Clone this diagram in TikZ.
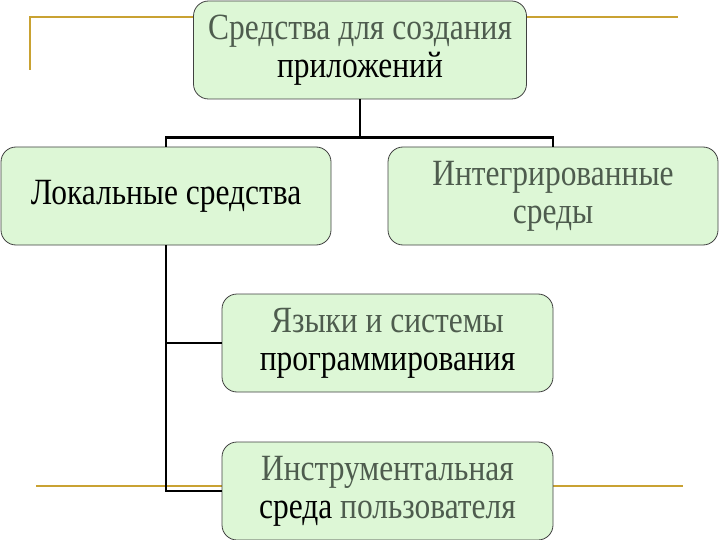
\documentclass[tikz,border=0pt]{standalone}
\usepackage{fontspec}
\setmainfont{Liberation Serif}[FakeStretch=0.85]
\definecolor{gold}{HTML}{C9A232}
\definecolor{boxfill}{HTML}{DDF7D6}
\definecolor{greytext}{HTML}{4E5C4E}
\tikzset{
  box/.style={draw=black!75, line width=0.8pt, fill=boxfill, rounded corners=15pt,
    minimum width=#1, minimum height=98pt, align=center, inner sep=1pt,
    font=\fontsize{37}{38}\selectfont},
  box/.default=331pt,
  conn/.style={line width=2.6pt, draw=black},
  deco/.style={line width=2.8pt, draw=gold}
}
\begin{document}
\begin{tikzpicture}[x=1pt,y=-1pt]
\useasboundingbox (0,0) rectangle (720,540);
\draw[deco] (30,70) -- (30,17) -- (678,17);
\draw[deco] (36,486) -- (683,486);
\node[box=333pt] (top) at (360,50) {{\color{greytext}Средства для создания}\\приложений};
\node[box=330pt] (left) at (166,196) {Локальные средства};
\node[box=330pt] (right) at (553,196) {{\color{greytext}Интегрированные}\\{\color{greytext}среды}};
\node[box] (lang) at (387.5,343) {{\color{greytext}Языки и системы}\\программирования};
\node[box] (tool) at (387.5,491) {{\color{greytext}Инструментальная}\\среда {\color{greytext}пользователя}};
\draw[conn] (top.south) -- ++(0,38) -| (left.north);
\draw[conn] (top.south) -- ++(0,38) -| (right.north);
\draw[conn] (left.south) |- (tool.west);
\draw[conn] (left.south |- lang.west) -- (lang.west);
\end{tikzpicture}
\end{document}
